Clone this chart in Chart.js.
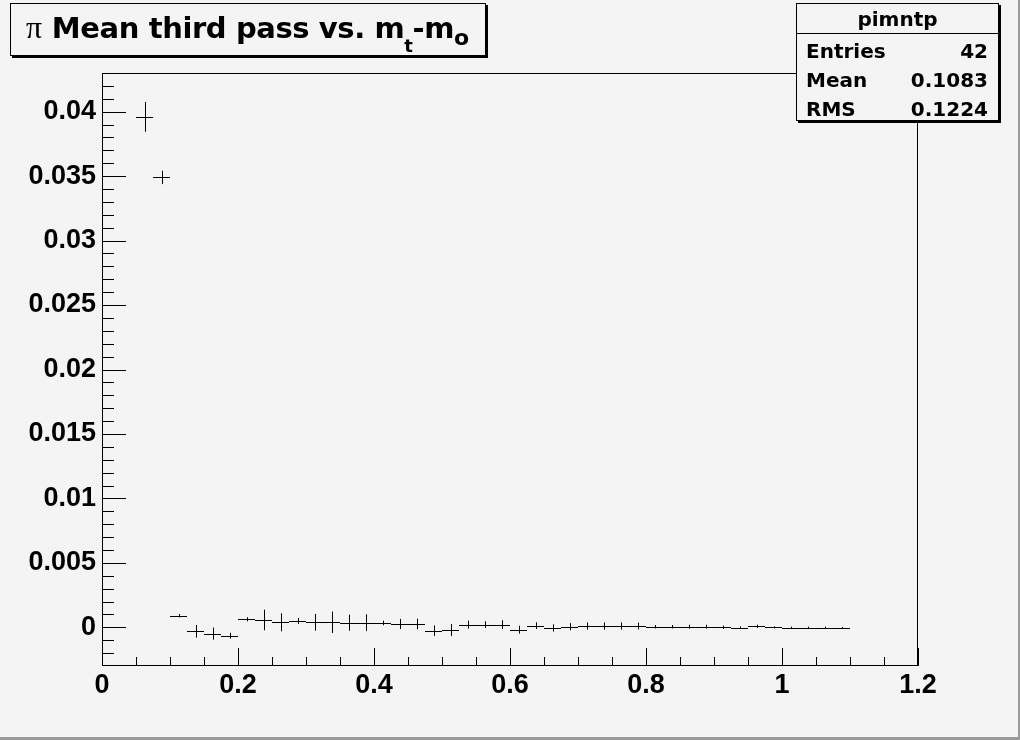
<!DOCTYPE html>
<html>
<head>
<meta charset="utf-8">
<script src="https://cdn.jsdelivr.net/npm/chart.js@4.4.1/dist/chart.umd.min.js"></script>
<style>
  html, body { margin: 0; padding: 0; background: #f4f4f4; }
  #wrap { position: relative; width: 1020px; height: 740px; overflow: hidden; background: #f4f4f4; }
  #c { position: absolute; left: 0; top: 0; }
  .box { position: absolute; box-sizing: border-box; border: 1px solid #000; background: #f4f4f4; box-shadow: 2px 2px 0 0 #000; }
  .t { position: absolute; white-space: nowrap; line-height: 1; color: #000; }
  #title { left: 10px; top: 3px; width: 476px; height: 53px; }
  #stats { left: 796px; top: 3px; width: 203px; height: 118px; }
  .sans { font-family: "DejaVu Sans", sans-serif; font-weight: bold; }
</style>
</head>
<body>
<div id="wrap">
  <canvas id="c" width="1020" height="740"></canvas>
  <div id="title" class="box">
    <div class="t" style="left:15px; top:7px; font-size:29px;"><span style="font-family:'Liberation Serif',serif; font-weight:normal; font-size:32px;">π</span><span class="sans" style="letter-spacing:-0.4px;"> Mean third pass vs. m<span style="font-size:18px; position:relative; top:14px;">t</span>-m<span style="font-size:22px; position:relative; top:7px;">o</span></span></div>
  </div>
  <div id="stats" class="box">
    <div class="t sans" style="left:0; width:201px; text-align:center; top:5px; font-size:20px;">pimntp</div>
    <div style="position:absolute; left:0; top:29px; width:201px; height:1px; background:#000;"></div>
    <div class="t sans" style="left:9px; top:37px; font-size:20px;">Entries</div>
    <div class="t sans" style="right:10px; top:37px; font-size:20px;">42</div>
    <div class="t sans" style="left:9px; top:66px; font-size:20px;">Mean</div>
    <div class="t sans" style="right:10px; top:66px; font-size:20px;">0.1083</div>
    <div class="t sans" style="left:9px; top:95px; font-size:20px;">RMS</div>
    <div class="t sans" style="right:10px; top:95px; font-size:20px;">0.1224</div>
  </div>
  <div style="position:absolute; left:0; top:737px; width:1020px; height:3px; background:#9a9a9a;"></div>
  <div style="position:absolute; left:1018px; top:0; width:2px; height:740px; background:#9a9a9a;"></div>
</div>
<script>
// ---- data ----
const binCenters = [0.0625, 0.0875, 0.1125, 0.1375, 0.1625, 0.1875, 0.2125, 0.2375, 0.2625, 0.2875,
                    0.3125, 0.3375, 0.3625, 0.3875, 0.4125, 0.4375, 0.4625, 0.4875, 0.5125, 0.5375,
                    0.5625, 0.5875, 0.6125, 0.6375, 0.6625, 0.6875, 0.7125, 0.7375, 0.7625, 0.7875,
                    0.8125, 0.8375, 0.8625, 0.8875, 0.9125, 0.9375, 0.9625, 0.9875, 1.0125, 1.0375,
                    1.0625, 1.0875];
const binHalfWidth = 0.0125;
const meanValues = [0.0396, 0.0349, 0.0009, -0.00031, -0.00049, -0.00065, 0.00062, 0.00057, 0.00039, 0.00049,
                    0.00039, 0.00039, 0.00036, 0.00036, 0.00034, 0.00026, 0.00026, -0.00026, -0.00021, 0.00021,
                    0.00021, 0.00021, -0.00018, 0.00013, -0.00005, 0.00005, 0.0001, 0.0001, 0.0001, 0.0001,
                    0.00005, 0.00005, 0.00005, 0.00005, 0.0, -0.00003, 0.00008, 0.0, -0.00003, -0.00003,
                    -0.00003, -0.00003];
const meanErrors = [0.00116, 0.00052, 0.00013, 0.00049, 0.00047, 0.00023, 0.00016, 0.0008, 0.0007, 0.00023,
                    0.00065, 0.00083, 0.00062, 0.00065, 0.00018, 0.00039, 0.00041, 0.00041, 0.00047, 0.00031,
                    0.00026, 0.00034, 0.00031, 0.00026, 0.00028, 0.00028, 0.00028, 0.00028, 0.00028, 0.00026,
                    0.00013, 0.00013, 0.00015, 0.00015, 0.00013, 0.0001, 0.00013, 0.00008, 0.00008, 0.00008,
                    0.00008, 0.00006];
const xTickValues = [0, 0.2, 0.4, 0.6, 0.8, 1.0, 1.2];
const xTickLabels = ['0', '0.2', '0.4', '0.6', '0.8', '1', '1.2'];
const yTickValues = [0, 0.005, 0.01, 0.015, 0.02, 0.025, 0.03, 0.035, 0.04];
const yTickLabels = ['0', '0.005', '0.01', '0.015', '0.02', '0.025', '0.03', '0.035', '0.04'];
const xRange = [0, 1.2];
const yRange = [-0.003, 0.043];

// ---- plugins ----
const errorBars = {
  id: 'errorBars',
  afterDatasetsDraw(chart) {
    const ctx = chart.ctx, xs = chart.scales.x, ys = chart.scales.y, a = chart.chartArea;
    ctx.save();
    ctx.beginPath(); ctx.rect(a.left, a.top, a.right - a.left, a.bottom - a.top); ctx.clip();
    ctx.strokeStyle = '#000'; ctx.lineWidth = 1;
    chart.data.datasets[0].data.forEach((p, i) => {
      const e = meanErrors[i];
      const x0 = Math.round(xs.getPixelForValue(p.x - binHalfWidth));
      const x1 = Math.round(xs.getPixelForValue(p.x + binHalfWidth));
      const xc = Math.round(xs.getPixelForValue(p.x)) + 0.5;
      const yc = Math.round(ys.getPixelForValue(p.y)) + 0.5;
      const yt = ys.getPixelForValue(p.y + e);
      const yb = ys.getPixelForValue(p.y - e);
      ctx.beginPath();
      ctx.moveTo(x0, yc); ctx.lineTo(x1, yc);
      ctx.moveTo(xc, yt); ctx.lineTo(xc, yb);
      ctx.stroke();
    });
    ctx.restore();
  }
};

const frameTicks = {
  id: 'frameTicks',
  afterDraw(chart) {
    const ctx = chart.ctx, xs = chart.scales.x, ys = chart.scales.y, a = chart.chartArea;
    ctx.save();
    ctx.strokeStyle = '#000'; ctx.lineWidth = 1;
    ctx.strokeRect(Math.round(a.left) + 0.5, Math.round(a.top) + 0.5,
                   Math.round(a.right - a.left) - 1, Math.round(a.bottom - a.top) - 1);
    ctx.beginPath();
    // y ticks (inward from left axis)
    for (let k = -3; k <= 43; k++) {
      const v = k / 1000;
      const y = Math.round(ys.getPixelForValue(v)) + 0.5;
      if (y < a.top || y > a.bottom) continue;
      const len = (k % 5 === 0) ? 24 : 12;
      ctx.moveTo(a.left, y); ctx.lineTo(a.left + len, y);
    }
    // x ticks (inward from bottom axis)
    for (let k = 0; k <= 24; k++) {
      const v = k * 0.05;
      const x = Math.round(xs.getPixelForValue(v)) + 0.5;
      const len = (k % 4 === 0) ? 18 : 9;
      ctx.moveTo(x, a.bottom); ctx.lineTo(x, a.bottom - len);
    }
    ctx.stroke();
    ctx.restore();
  }
};

const tickFont = { family: '"Liberation Sans", Arial, sans-serif', size: 27, weight: 'bold' };

new Chart(document.getElementById('c'), {
  type: 'scatter',
  data: {
    datasets: [{
      label: 'pimntp',
      data: binCenters.map((x, i) => ({ x: x, y: meanValues[i] })),
      pointRadius: 0,
      pointHoverRadius: 0,
      showLine: false
    }]
  },
  options: {
    responsive: false,
    animation: false,
    events: [],
    layout: { padding: { left: 0, top: 73, right: 102, bottom: 0 } },
    plugins: { legend: { display: false }, title: { display: false }, tooltip: { enabled: false } },
    scales: {
      x: {
        type: 'linear', min: xRange[0], max: xRange[1],
        afterBuildTicks: (s) => { s.ticks = xTickValues.map(v => ({ value: v })); },
        afterFit: (s) => { s.height = 74; },
        ticks: { callback: (v, i) => xTickLabels[i], font: tickFont, color: '#000', padding: 3,
                 maxRotation: 0, autoSkip: false },
        grid: { display: false, drawTicks: false },
        border: { display: false }
      },
      y: {
        type: 'linear', min: yRange[0], max: yRange[1],
        afterBuildTicks: (s) => { s.ticks = yTickValues.map(v => ({ value: v })); },
        afterFit: (s) => { s.width = 102; },
        ticks: { callback: (v, i) => yTickLabels[i], font: tickFont, color: '#000', padding: 6,
                 autoSkip: false },
        grid: { display: false, drawTicks: false },
        border: { display: false }
      }
    }
  },
  plugins: [errorBars, frameTicks]
});
</script>
</body>
</html>
